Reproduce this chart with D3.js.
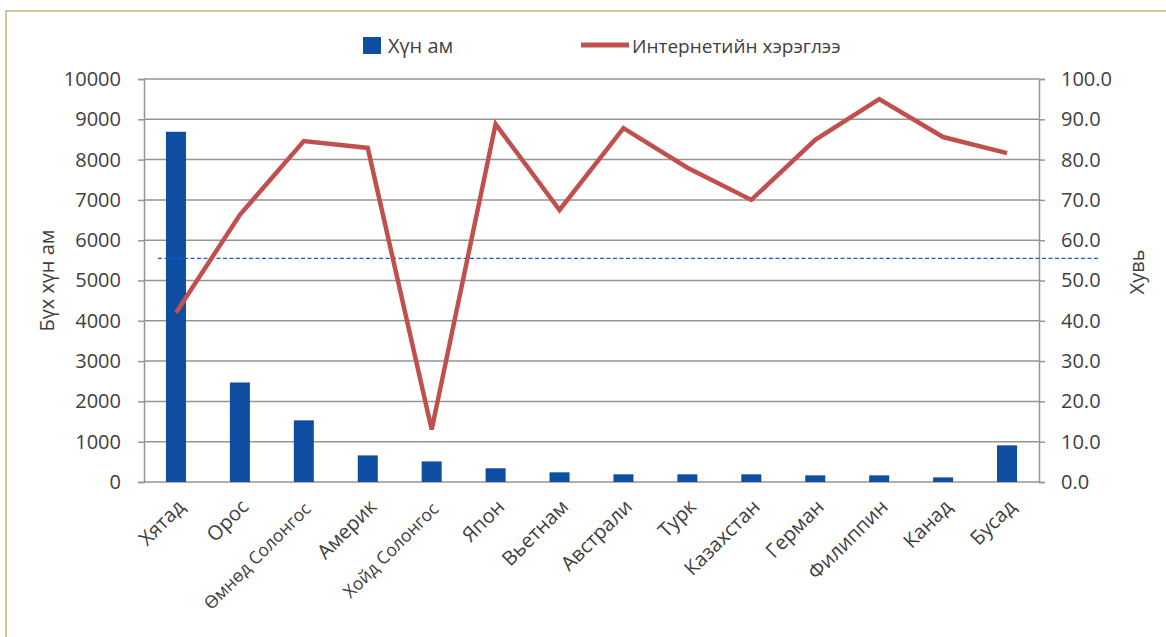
<!DOCTYPE html>
<html><head><meta charset="utf-8">
<script src="https://cdn.jsdelivr.net/npm/d3@7"></script>
<style>
html,body{margin:0;padding:0;background:#fff;}
svg{display:block;font-family:"Open Sans",sans-serif;}
</style></head>
<body>
<svg id="c" width="1166" height="637"></svg>
<script>
const categories = ["Хятад","Орос","Өмнөд Солонгос","Америк","Хойд Солонгос","Япон","Вьетнам","Австрали","Турк","Казахстан","Герман","Филиппин","Канад","Бусад"];
const population = [8690,2470,1530,660,510,340,240,190,190,190,165,165,115,910];
const internetUse = [42,66.3,84.6,82.9,13,88.8,67.5,87.8,78,70,84.9,95,85.6,81.6];
const averageLine = 55.5;
const leftTicks = [0,1000,2000,3000,4000,5000,6000,7000,8000,9000,10000];
const rightTicks = [0,10,20,30,40,50,60,70,80,90,100];
const seriesNames = ["Хүн ам","Интернетийн хэрэглээ"];
const axisTitles = ["Бүх хүн ам","Хувь"];
const smallLabels = ["Өмнөд Солонгос","Хойд Солонгос"];

const svg = d3.select("#c");
const L = 144, R = 1039, T = 79, B = 482;
const gray = "#959595", txt = "#404040";

// frame
svg.append("path").attr("d","M6,637 L6,11 L1166,11").attr("fill","none").attr("stroke","#c9b27c").attr("stroke-width",1.5);

const x = d3.scaleBand().domain(categories).range([L,R]).padding(0);
const yL = d3.scaleLinear().domain([0,10000]).range([B,T]);
const yR = d3.scaleLinear().domain([0,100]).range([B,T]);

// gridlines
svg.append("g").selectAll("line").data(leftTicks).join("line")
  .attr("x1",L).attr("x2",R).attr("y1",d=>yL(d)).attr("y2",d=>yL(d))
  .attr("stroke",gray).attr("stroke-width",1.5);

// left axis
const la = svg.append("g").attr("transform",`translate(${L},0)`)
  .call(d3.axisLeft(yL).tickValues(leftTicks).tickSize(6).tickPadding(17).tickFormat(d3.format("d")));
la.select(".domain").attr("stroke",gray).attr("stroke-width",1.5);
la.selectAll(".tick line").attr("stroke",gray).attr("stroke-width",1.5);
la.selectAll("text").attr("fill",txt).style("font-size","20px").style("font-family","'Open Sans',sans-serif");

// right axis
const ra = svg.append("g").attr("transform",`translate(${R},0)`)
  .call(d3.axisRight(yR).tickValues(rightTicks).tickSize(6).tickPadding(16).tickFormat(d3.format(".1f")));
ra.select(".domain").attr("stroke",gray).attr("stroke-width",1.5);
ra.selectAll(".tick line").attr("stroke",gray).attr("stroke-width",1.5);
ra.selectAll("text").attr("fill",txt).style("font-size","20px").style("font-family","'Open Sans',sans-serif");

// bars
const bw = 20;
svg.append("g").selectAll("rect").data(categories).join("rect")
  .attr("x",(d)=>x(d)+x.bandwidth()/2-bw/2)
  .attr("width",bw)
  .attr("y",(d,i)=>yL(population[i]))
  .attr("height",(d,i)=>yL(0)-yL(population[i]))
  .attr("fill","#0d4da2");

// average dashed line
svg.append("line").attr("x1",158).attr("x2",1100)
  .attr("y1",yR(averageLine)).attr("y2",yR(averageLine))
  .attr("stroke","#1a5ec4").attr("stroke-width",1.2).attr("stroke-dasharray","4,2.5");

// internet line
const line = d3.line().x((d,i)=>x(categories[i])+x.bandwidth()/2).y(d=>yR(d));
svg.append("path").datum(internetUse).attr("d",line)
  .attr("fill","none").attr("stroke","#c0504d").attr("stroke-width",4.5).attr("stroke-linejoin","miter");

// x labels
svg.append("g").selectAll("text").data(categories).join("text")
  .attr("transform",d=>`translate(${x(d)+x.bandwidth()/2+(smallLabels.includes(d)?8:10)},${smallLabels.includes(d)?510:508}) rotate(-45)`)
  .attr("text-anchor","end")
  .attr("fill",txt)
  .style("font-size",d=>smallLabels.includes(d)?"17.5px":"20px")
  .text(d=>d);

// axis titles
svg.append("text").attr("transform",`translate(54,${(T+B)/2}) rotate(-90)`)
  .attr("text-anchor","middle").attr("fill",txt).style("font-size","20px").text(axisTitles[0]);
svg.append("text").attr("transform",`translate(1144,272) rotate(-90)`)
  .attr("text-anchor","middle").attr("fill",txt).style("font-size","20px").text(axisTitles[1]);

// legend
svg.append("rect").attr("x",363).attr("y",37).attr("width",18).attr("height",17).attr("fill","#0d4da2");
svg.append("text").attr("x",388).attr("y",53).attr("fill",txt).style("font-size","20px").text(seriesNames[0]);
svg.append("line").attr("x1",581).attr("x2",629).attr("y1",45).attr("y2",45).attr("stroke","#c0504d").attr("stroke-width",5);
svg.append("text").attr("x",632).attr("y",53).attr("fill",txt).style("font-size","19px").text(seriesNames[1]);
</script>
</body></html>
